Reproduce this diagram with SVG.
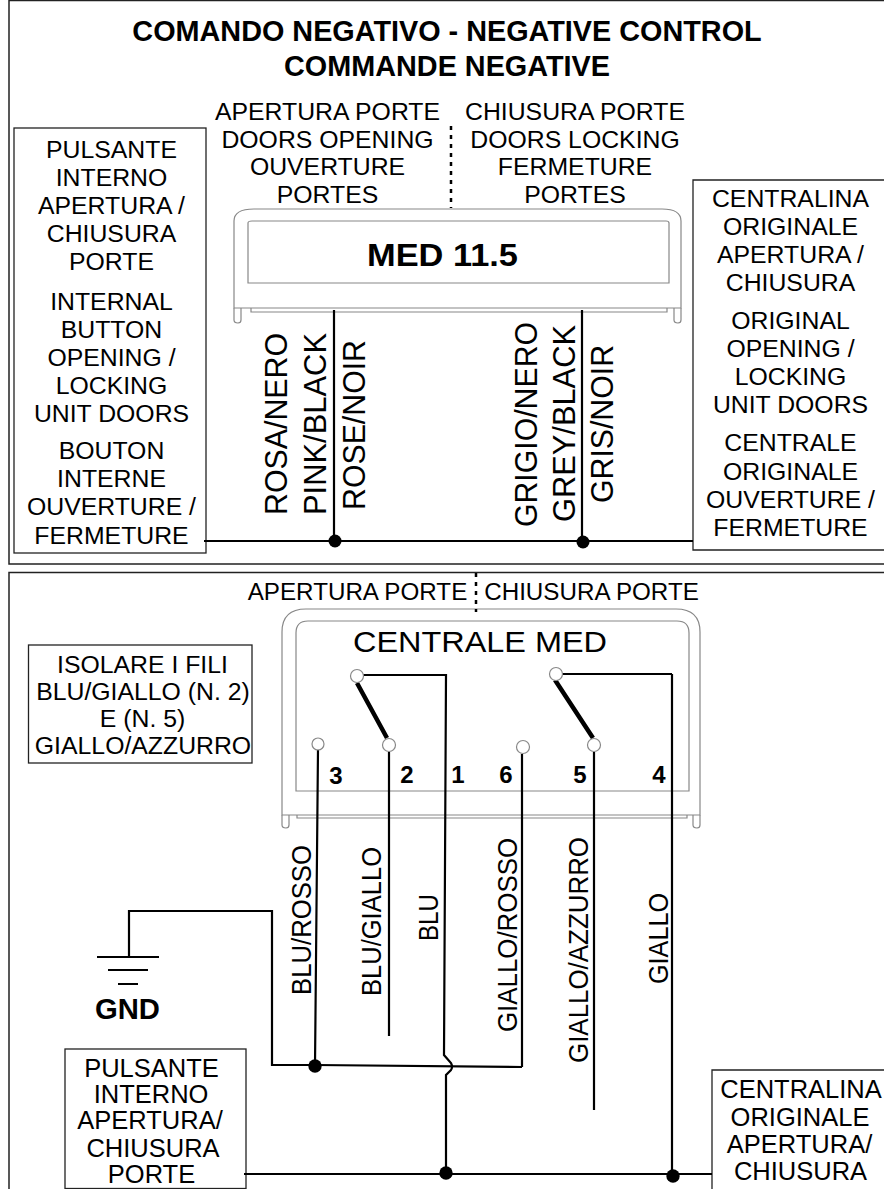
<svg xmlns="http://www.w3.org/2000/svg" width="884" height="1189" viewBox="0 0 884 1189">
<style>
text{font-family:"Liberation Sans",Arial,sans-serif;fill:#000;text-anchor:middle}
.t{font-size:24.8px}
.s{font-size:25.5px}
.r{font-size:30.5px;text-anchor:start}
.q{font-size:27px;text-anchor:start}
.h{font-size:28.8px;font-weight:bold}
.n{font-size:24px;font-weight:bold}
.box{fill:#fff;stroke:#222;stroke-width:1.3}
.frame{fill:none;stroke:#222;stroke-width:1.5}
.g{fill:none;stroke:#888;stroke-width:1.2}
.w{fill:none;stroke:#000;stroke-width:2.2}
.sw{fill:none;stroke:#000;stroke-width:4.5}
.dash{fill:none;stroke:#000;stroke-width:2.5;stroke-dasharray:4 5}
.dot{fill:#000}
.pin{fill:#fff;stroke:#888;stroke-width:1.2}
</style>
<rect width="884" height="1189" fill="#fff"/>
<g id="frames">
<path class="frame" d="M884 0.5H9V564H884"/>
<path class="frame" d="M884 572.5H9V1189"/>
</g>
<g id="titles">
<text class="h" x="447" y="41">COMANDO NEGATIVO - NEGATIVE CONTROL</text>
<text class="h" x="447" y="76">COMMANDE NEGATIVE</text>
</g>
<g id="med-top">
<path class="g" d="M234 308V221Q234 209 254 209H662Q681 209 681 221V308Z"/>
<path class="g" d="M248 283V223Q248 221 252 221H666Q669 221 669 223V283Z"/>
<path class="g" d="M234 308V320Q234 323 238 323Q241 323 241 320V308M674 308V320Q674 323 678 323Q681 323 681 320V308M251 308V312H667V308"/>
<text x="442.5" y="266" textLength="151" lengthAdjust="spacingAndGlyphs" style="font-size:31px;font-weight:bold">MED 11.5</text>
</g>
<g id="labels-top">
<text class="t" x="327.5" y="120">APERTURA PORTE</text>
<text class="t" x="327.5" y="148">DOORS OPENING</text>
<text class="t" x="327.5" y="175">OUVERTURE</text>
<text class="t" x="327.5" y="203">PORTES</text>
<text class="t" x="575" y="120">CHIUSURA PORTE</text>
<text class="t" x="575" y="148">DOORS LOCKING</text>
<text class="t" x="575" y="175">FERMETURE</text>
<text class="t" x="575" y="203">PORTES</text>
<text class="r" textLength="182" lengthAdjust="spacingAndGlyphs" transform="translate(287 515) rotate(-90)">ROSA/NERO</text>
<text class="r" textLength="182" lengthAdjust="spacingAndGlyphs" transform="translate(326 515) rotate(-90)">PINK/BLACK</text>
<text class="r" textLength="170" lengthAdjust="spacingAndGlyphs" transform="translate(365 510) rotate(-90)">ROSE/NOIR</text>
<text class="r" textLength="205" lengthAdjust="spacingAndGlyphs" transform="translate(537 527) rotate(-90)">GRIGIO/NERO</text>
<text class="r" textLength="197" lengthAdjust="spacingAndGlyphs" transform="translate(575 522) rotate(-90)">GREY/BLACK</text>
<text class="r" textLength="158" lengthAdjust="spacingAndGlyphs" transform="translate(613 503) rotate(-90)">GRIS/NOIR</text>
</g>
<g id="button-top">
<rect class="box" x="14" y="128" width="192" height="425"/>
<text class="t" x="111.5" y="158">PULSANTE</text>
<text class="t" x="111.5" y="186">INTERNO</text>
<text class="t" x="111.5" y="214">APERTURA /</text>
<text class="t" x="111.5" y="242">CHIUSURA</text>
<text class="t" x="111.5" y="270">PORTE</text>
<text class="t" x="111.5" y="310">INTERNAL</text>
<text class="t" x="111.5" y="338">BUTTON</text>
<text class="t" x="111.5" y="366">OPENING /</text>
<text class="t" x="111.5" y="394">LOCKING</text>
<text class="t" x="111.5" y="422">UNIT DOORS</text>
<text class="t" x="111.5" y="459">BOUTON</text>
<text class="t" x="111.5" y="487">INTERNE</text>
<text class="t" x="111.5" y="515">OUVERTURE /</text>
<text class="t" x="111.5" y="544">FERMETURE</text>
</g>
<g id="unit-top">
<path class="box" d="M884 180H693V550H884"/>
<text class="t" x="790.5" y="207">CENTRALINA</text>
<text class="t" x="790.5" y="235">ORIGINALE</text>
<text class="t" x="790.5" y="263">APERTURA /</text>
<text class="t" x="790.5" y="291">CHIUSURA</text>
<text class="t" x="790.5" y="329">ORIGINAL</text>
<text class="t" x="790.5" y="357">OPENING /</text>
<text class="t" x="790.5" y="385">LOCKING</text>
<text class="t" x="790.5" y="413">UNIT DOORS</text>
<text class="t" x="790.5" y="451">CENTRALE</text>
<text class="t" x="790.5" y="480">ORIGINALE</text>
<text class="t" x="790.5" y="508">OUVERTURE /</text>
<text class="t" x="790.5" y="536">FERMETURE</text>
</g>
<g id="med-bottom">
<path class="g" d="M282 815V632Q282 609 306 609H676Q700 609 700 632V815Z"/>
<path class="g" d="M296 791V633Q296 621 308 621H677Q689 621 689 633V791Z"/>
<path class="g" d="M282 815V825Q282 828 286 828Q289 828 289 825V815M693 815V825Q693 828 697 828Q700 828 700 825V815M297 815V818H687V815"/>
<text x="480" y="652" textLength="254" lengthAdjust="spacingAndGlyphs" style="font-size:30px">CENTRALE MED</text>
</g>
<g id="labels-bottom">
<text x="357.5" y="600" style="font-size:24.2px">APERTURA PORTE</text>
<text x="591.5" y="600" style="font-size:24.2px">CHIUSURA PORTE</text>
<text class="n" x="336" y="784">3</text>
<text class="n" x="407" y="783">2</text>
<text class="n" x="458" y="783">1</text>
<text class="n" x="506" y="783">6</text>
<text class="n" x="580" y="783">5</text>
<text class="n" x="659" y="783">4</text>
<text class="q" textLength="150" lengthAdjust="spacingAndGlyphs" transform="translate(311 995) rotate(-90)">BLU/ROSSO</text>
<text class="q" textLength="149" lengthAdjust="spacingAndGlyphs" transform="translate(381 996) rotate(-90)">BLU/GIALLO</text>
<text class="q" textLength="47" lengthAdjust="spacingAndGlyphs" transform="translate(438 941) rotate(-90)">BLU</text>
<text class="q" textLength="194" lengthAdjust="spacingAndGlyphs" transform="translate(517 1032) rotate(-90)">GIALLO/ROSSO</text>
<text class="q" textLength="226" lengthAdjust="spacingAndGlyphs" transform="translate(588 1063) rotate(-90)">GIALLO/AZZURRO</text>
<text class="q" textLength="91" lengthAdjust="spacingAndGlyphs" transform="translate(668 984) rotate(-90)">GIALLO</text>
</g>
<g id="note">
<rect class="box" x="28.5" y="645" width="223.5" height="118"/>
<text class="t" x="142.5" y="673">ISOLARE I FILI</text>
<text class="t" x="143" y="700">BLU/GIALLO (N. 2)</text>
<text class="t" x="142.5" y="727">E (N. 5)</text>
<text class="t" x="143" y="754">GIALLO/AZZURRO</text>
</g>
<g id="gnd">
<text x="127.5" y="1019" textLength="65" lengthAdjust="spacingAndGlyphs" style="font-size:29px;font-weight:bold">GND</text>
</g>
<g id="button-bottom">
<rect class="box" x="65" y="1049" width="181" height="139.5"/>
<text class="s" x="151.5" y="1077">PULSANTE</text>
<text class="s" x="151" y="1103">INTERNO</text>
<text class="s" x="150" y="1129">APERTURA/</text>
<text class="s" x="153" y="1157">CHIUSURA</text>
<text class="s" x="151.5" y="1183">PORTE</text>
</g>
<g id="unit-bottom">
<path class="box" d="M884 1070H712V1189"/>
<text class="s" x="801" y="1098">CENTRALINA</text>
<text class="s" x="800" y="1126">ORIGINALE</text>
<text class="s" x="799.5" y="1153">APERTURA/</text>
<text class="s" x="800.5" y="1180">CHIUSURA</text>
</g>
<g id="connectors">
<path class="dash" d="M451 126V208"/>
<path class="dash" d="M476 573V612"/>
<path class="w" d="M334 310V541M582 310V541M204 541H693"/>
<circle class="dot" cx="335" cy="541" r="6.5"/>
<circle class="dot" cx="583" cy="542" r="6.5"/>
<path class="w" d="M318 749L315 1066M389 752V1036M522 754V1067M594 752V1110M672 674V1175M362 675H446L444 1055L451 1063Q453 1067 451 1070L446 1075V1173M561 674H672"/>
<path class="w" d="M129 957V911H272V1065H315L522 1067"/>
<path class="w" d="M97 957H159M108 970H148M118 984H138"/>
<path class="w" d="M244 1174H712"/>
<path class="sw" d="M357 683L387 738M555 680L593 738"/>
<circle class="pin" cx="318" cy="744" r="6"/><circle class="pin" cx="389" cy="745" r="6.5"/><circle class="pin" cx="357" cy="676" r="6.5"/><circle class="pin" cx="523" cy="747" r="6.5"/><circle class="pin" cx="594" cy="745" r="6.5"/><circle class="pin" cx="556" cy="674" r="6.5"/>
<circle class="dot" cx="315" cy="1066" r="6.7"/>
<circle class="dot" cx="446" cy="1173" r="6.7"/>
<circle class="dot" cx="673" cy="1176" r="6.7"/>
</g>
</svg>
